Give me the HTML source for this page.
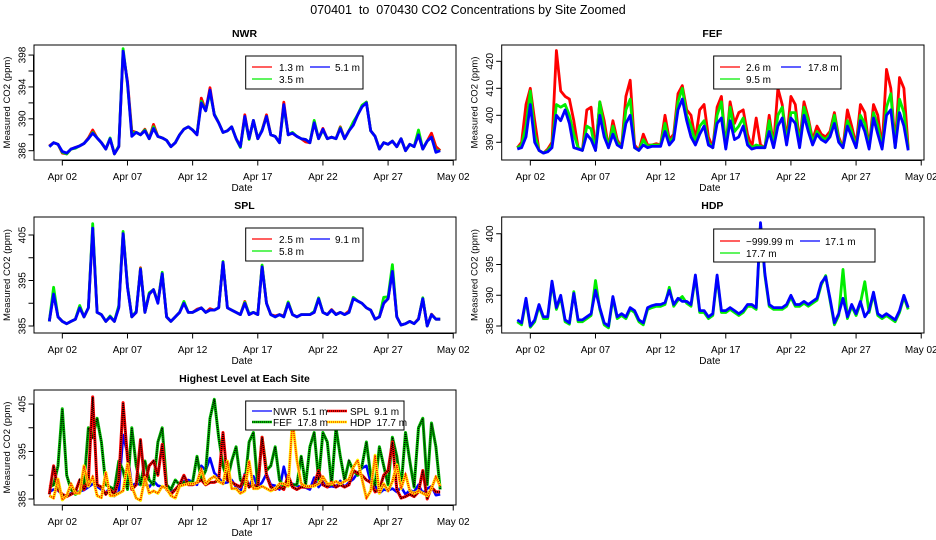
<!DOCTYPE html>
<html><head><meta charset="utf-8"><style>
body{margin:0;background:#fff;}
svg{display:block;font-family:"Liberation Sans",sans-serif;}
text{white-space:pre;}
</style></head><body>
<svg id="chart" width="936" height="540" viewBox="0 0 936 540" xmlns="http://www.w3.org/2000/svg">
<rect x="0" y="0" width="936" height="540" fill="#fff"/>
<text x="468" y="14" text-anchor="middle" font-size="12.5">070401  to  070430 CO2 Concentrations by Site Zoomed</text>
</svg>
<script>
// ---- data (index i = day offset i/3 from Apr 01 00:00) ----
const xTickLabels = ["Apr 02","Apr 07","Apr 12","Apr 17","Apr 22","Apr 27","May 02"];
const xTickDays = [1,6,11,16,21,26,31];

const nwr13 = [386.6,387,386.8,385.7,385.6,386.2,386.4,386.6,386.9,387.6,388.6,387.6,387.0,386.2,387.5,385.6,386.5,398.3,394.7,388.5,388.3,388.0,388.7,387.5,389.3,387.8,387.6,387.3,386.5,387.0,388.0,388.7,389.0,388.6,388.0,392.6,391.0,393.9,390.5,389.5,388.3,388.5,389.0,387.5,386.5,390.5,387.5,389.8,387.5,388.6,390.5,388.0,387.8,387.0,392.1,388.0,388.2,387.8,387.5,387.1,387.0,389.5,387.5,388.8,387.5,387.7,387.5,389.0,387.5,388.5,389.4,390.5,391.6,392.1,388.5,387.8,386.2,387.0,386.8,387.2,386.5,387.5,386.0,386.8,386.5,388.0,386.2,387.2,388.2,386.5,386.0];
const nwr35 = [386.5,387,386.8,385.8,385.6,386.2,386.3,386.6,386.9,387.5,388.3,387.6,387.0,386.2,387.6,385.6,386.6,398.8,394.3,388.2,388.3,388.0,388.6,387.5,389.0,387.8,387.6,387.3,386.5,387.0,388.0,388.7,389.0,388.6,388.1,392.2,391.0,393.3,390.6,389.5,388.3,388.5,389.0,387.5,386.4,390.2,387.4,389.8,387.5,388.6,390.3,388.0,387.8,387.0,391.6,388.0,388.3,387.8,387.5,387.4,387.0,389.8,387.5,388.6,387.5,387.7,387.5,388.9,387.5,388.5,389.6,390.5,391.7,392.1,388.5,387.8,386.2,387.0,386.8,387.2,386.5,387.5,386.0,386.8,386.5,388.6,386.2,387.2,387.7,386.0,386.0];
const nwr51 = [386.5,387,386.8,385.9,385.7,386.2,386.4,386.6,386.9,387.5,388.2,387.6,387.0,386.2,387.5,385.6,386.5,398.5,394.5,387.8,388.3,388.0,388.5,387.5,388.8,387.8,387.6,387.3,386.5,387.0,388.0,388.7,389.0,388.6,388.0,392.0,391.0,393.6,390.5,389.5,388.3,388.5,389.0,387.5,386.5,390.3,387.5,389.8,387.5,388.5,390.3,388.0,387.8,387.0,391.8,388.0,388.2,387.8,387.5,387.4,387.0,389.5,387.5,388.7,387.5,387.7,387.5,388.8,387.5,388.5,389.2,390.5,391.5,392.0,388.5,387.8,386.2,387.0,386.8,387.2,386.5,387.5,386.0,386.8,386.5,388.0,386.2,387.2,387.7,385.8,386.0];

const fef26 = [388,390,404,410,398,387,386,387.5,390,424,409,407,406,398,388,387,402,403,387,405,398,388,398,391,388,407,413,389,387,393,389,389,389.5,389,400,391,393,408,411,402,400,391,402,404,392,388,403,407,388,405,397,401,402,393,388,399,389,388,400,389,410,404,391,407,404,390,405,399,391,396,393,392,394,401,392,388,402,396,389,404,401,388,404,400,388,417,410,389,414,410,388];
const fef95 = [388,389,396,409,393,387,386,387,389,404,403,404,400,393,388,387,396,395,387,405,395,388,396,390,388,402,406,388,387,391,388.5,389,389,389,397,390,392,405,410,400,396,390,396,398,390,388,400,405,388,403,394,396,399,390,388,389,388.5,388,398,388.5,400,403,390,401,401,389,403,398,390,394,392,391,393,400,391,388,398,394,388,400,397,388,401,396,388,403,408,388,406,401,387.5];
const fef178 = [387.5,388,392,404,390,387,386,386.5,388,400,398,402,397,388,387.5,387,393,391,387,400,392,388,393,389,388,397,400,388,387,389,388,388.5,388.5,388.5,394,389,391,402,406,398,392,389,393,396,389,388,397,399,387.5,398,391,392,396,389,387.5,388,388,388,394,388,396,399,389,399,397,388,400,394,389,393,391,390,392,397,390,388,396,392,388,398,394,387.5,399,393,387.5,400,402,388,401,396,387];

const spl25 = [386,392.2,387,386,385.5,386,386.5,389.3,387,389,406.5,388,387.5,386,387,386,389.2,405.5,393.7,387,388,397.8,388,392,393,390.3,396.5,387,386,387,388,390.2,388,388,388.7,389,388,388.8,388.5,389,399,389,388.5,388,387.5,390.4,387.5,388,387.5,398.3,390,387.5,387.2,387.5,387.2,390.2,387.5,387,387.5,387.5,387.5,388,391,388,387.5,388.6,387.6,388,387.5,388.3,391.2,390.5,390,389,388.5,386.5,387,390,391,397.5,387,385.2,385.5,386,385.5,386.6,391,385,387.6,386.5,386.5];
const spl58 = [386,393.5,387,386,385.5,386,386.5,389.5,387,389,407.5,388,387.5,386,387.2,386,389.5,405.8,393.8,387,388.2,397.6,388,392.3,393,390.2,396.8,387,386,387,388,390.4,388,388,388.5,389,388,388.5,388.5,389,399.2,389,388.5,388,387.5,390.2,387.7,388,387.5,398.4,390,387.5,387,387.5,387,390.3,387.5,387,387.5,387.5,387.5,388.2,391.2,388,387.5,388.5,387.5,388,387.5,388,391.3,390.5,390,389,388.5,386.5,387,391.3,391.4,398.5,387,385.2,385.5,386,385.5,386.5,391.2,385,387.5,386.5,386.5];
const spl91 = [386,392,387,386,385.5,386,386.5,389,387,389,406.5,388,387.5,386,387,386,389,405.3,393.5,387,388,397.5,388,392,393,390,396.5,387,386,387,388,390,388,388,388.5,389,388,388.5,388.5,389,399,389,388.5,388,387.5,390,387.5,388,387.5,398,390,387.5,387,387.5,387,390,387.5,387,387.5,387.5,387.5,388,391,388,387.5,388.5,387.5,388,387.5,388,391,390.5,390,389,388.5,386.5,387,390,391,397,387,385.2,385.5,386,385.5,386.5,391,385,387.5,386.5,386.5];

const hdp171 = [386,385.5,389.5,385,386,388.5,386.5,386.5,392.3,388,390,386,385.5,390.3,386,386,386.5,387,390.8,388,385.5,385,389.8,386.5,387,386.5,388,387.5,386,385.5,388,388.3,388.5,388.5,388.8,390.8,388.5,389.5,389,389,388.5,393.3,387.5,387.5,386.5,387,393.3,387.5,387.5,388,387.5,387,387.5,388.5,388.5,388,401.8,393.5,388.5,388,388,388,388.5,390,388.5,388.5,389,388.5,389,389.5,392,393,389.5,385.5,387,389.5,386.5,388.5,387,389,386.5,387.5,390.5,387,386.5,387,386.5,386,387.5,390,388];
const hdp177 = [385.7,385.2,389.2,384.8,385.7,388.2,386.2,386.2,392,387.7,389.7,385.7,385.3,390.6,385.7,385.7,386.2,386.7,392.4,387.7,385.2,384.7,389.5,386.2,386.7,386.2,387.7,387.2,385.7,385.2,387.7,388,388.2,388.2,388.5,391.3,388.2,389.2,389.8,388.7,388.2,393,387.2,387.2,386.2,386.7,393,387.2,387.2,387.7,387.2,386.7,387.2,388.2,388.2,387.7,401.5,393.2,388.2,387.7,387.7,387.7,388.2,389.7,388.2,388.2,388.7,388.2,388.7,389.2,391.7,393.2,389.2,385.2,386.7,394.2,386.2,388.2,386.7,388.7,392.2,387.2,390.2,386.7,386.2,386.7,386.2,385.7,387.2,389.7,387.7];

const svg = document.getElementById('chart');
const NS = 'http://www.w3.org/2000/svg';
function mk(tag, attrs, parent){ const e=document.createElementNS(NS,tag); for(const k in attrs) e.setAttribute(k,attrs[k]); (parent||svg).appendChild(e); return e; }

function panel(cfg){
  const g = mk('g',{});
  
  
  const xs = d => cfg.xd0 + d*13.03;
  const ys = v => cfg.yref - (v - cfg.vref)*cfg.ppv;
  const cid = 'clip-' + cfg.name;
  const cp = mk('clipPath',{id:cid}, g);
  mk('rect',{x:cfg.x0,y:cfg.y0,width:cfg.x1-cfg.x0,height:cfg.y1-cfg.y0}, cp);
  const sg = mk('g',{'clip-path':'url(#'+cid+')'}, g);
  cfg.series.forEach(s=>{
    const pts = s.data.map((v,i)=> xs(i/3).toFixed(1)+','+ys(v).toFixed(1)).join(' ');
    const pl = mk('polyline',{points:pts,fill:'none',stroke:s.color,'stroke-width':s.w||2.8,'stroke-linejoin':'round'}, sg);
    
    
    if(s.dot){
      const p2 = mk('polyline',{points:pts,fill:'none',stroke:s.dot,'stroke-width':1.6,'stroke-dasharray':'1,1'}, sg);
      
      
    }
  });
  const box = mk('rect',{x:cfg.x0,y:cfg.y0,width:cfg.x1-cfg.x0,height:cfg.y1-cfg.y0,fill:'none',stroke:'#000','stroke-width':1}, g);
  
  
  const xa = mk('g',{}, g);
  
  
  const ax = cfg.y1 + 0.5;
  mk('line',{x1:xs(xTickDays[0]),x2:xs(xTickDays[xTickDays.length-1]),y1:ax,y2:ax,stroke:'#000'}, xa);
  xTickDays.forEach((d,i)=>{
    mk('line',{x1:xs(d),x2:xs(d),y1:ax,y2:ax+5,stroke:'#000'}, xa);
    const t = mk('text',{x:xs(d),y:cfg.y1+20,'text-anchor':'middle','font-size':10}, xa);
    t.textContent = xTickLabels[i];
    
    
  });
  const xl = mk('text',{x:(cfg.x0+cfg.x1)/2 - 3,y:cfg.y1+31,'text-anchor':'middle','font-size':10}, g);
  xl.textContent = 'Date';
  
  
  const ya = mk('g',{}, g);
  
  
  const lx = cfg.x0 - 0.5;
  mk('line',{x1:lx,x2:lx,y1:ys(cfg.ticks[0]),y2:ys(cfg.ticks[cfg.ticks.length-1]),stroke:'#000'}, ya);
  cfg.ticks.forEach(v=>{
    mk('line',{x1:lx-5,x2:lx,y1:ys(v),y2:ys(v),stroke:'#000'}, ya);
    if(cfg.labels.indexOf(v)>=0){
      const t = mk('text',{x:0,y:0,'text-anchor':'middle','font-size':10,transform:'translate('+(lx-8)+','+ys(v)+') rotate(-90)'}, ya);
      t.textContent = String(v);
      
      
    }
  });
  const yl = mk('text',{x:0,y:0,'text-anchor':'middle','font-size':9.5,transform:'translate('+(cfg.x0-24)+','+((cfg.y0+cfg.y1)/2)+') rotate(-90)'}, g);
  yl.textContent = 'Measured CO2 (ppm)';
  
  
  const tt = mk('text',{x:(cfg.x0+cfg.x1)/2-0.5,y:cfg.y0-8,'text-anchor':'middle','font-size':10.5,'font-weight':'bold'}, g);
  tt.textContent = cfg.title;
  
  
  const L = cfg.legend;
  const lg = mk('g',{}, g);
  
  
  mk('rect',{x:L.x,y:L.y,width:L.w,height:L.h,fill:'#fff',stroke:'#000','stroke-width':1}, lg);
  L.items.forEach(it=>{
    const e = mk('g',{}, lg);
    
    
    mk('line',{x1:it.lx,x2:it.lx+20,y1:it.y,y2:it.y,stroke:it.color,'stroke-width':it.dot?2.5:1.3}, e);
    if(it.dot) mk('line',{x1:it.lx,x2:it.lx+20,y1:it.y,y2:it.y,stroke:it.dot,'stroke-width':1,'stroke-dasharray':'1,1'}, e);
    const t = mk('text',{x:it.tx,y:it.y+4,'font-size':10}, e);
    t.textContent = it.text;
  });
}

const lx1 = 34, rx1 = 456, lx2 = 501.7, rx2 = 924;
panel({name:'nwr',title:'NWR',x0:lx1,x1:rx1,y0:45,y1:160,xd0:49.3,yref:150.7,vref:386,ppv:7.97,
  ticks:[386,388,390,392,394,396,398],labels:[386,390,394,398],
  series:[{key:'1-3m',data:nwr13,color:'#ff0000'},{key:'3-5m',data:nwr35,color:'#00ee00'},{key:'5-1m',data:nwr51,color:'#0000ff'}],
  legend:{x:245.7,y:56,w:117.3,h:33,items:[
    {lx:252,tx:279,y:67,color:'#ff0000',text:'1.3 m'},{lx:310,tx:335,y:67,color:'#0000ff',text:'5.1 m'},{lx:252,tx:279,y:79,color:'#00ee00',text:'3.5 m'}]}});
panel({name:'fef',title:'FEF',x0:lx2,x1:rx2,y0:45,y1:160,xd0:517.3,yref:142.3,vref:390,ppv:2.7,
  ticks:[390,400,410,420],labels:[390,400,410,420],
  series:[{key:'2-6m',data:fef26,color:'#ff0000'},{key:'9-5m',data:fef95,color:'#00ee00'},{key:'17-8m',data:fef178,color:'#0000ff'}],
  legend:{x:713.7,y:56,w:127.3,h:33,items:[
    {lx:720,tx:746,y:67,color:'#ff0000',text:'2.6 m'},{lx:781,tx:808,y:67,color:'#0000ff',text:'17.8 m'},{lx:720,tx:746,y:79,color:'#00ee00',text:'9.5 m'}]}});
panel({name:'spl',title:'SPL',x0:lx1,x1:rx1,y0:217,y1:333,xd0:49.3,yref:326,vref:385,ppv:4.55,
  ticks:[385,390,395,400,405],labels:[385,395,405],
  series:[{key:'2-5m',data:spl25,color:'#ff0000'},{key:'5-8m',data:spl58,color:'#00ee00'},{key:'9-1m',data:spl91,color:'#0000ff'}],
  legend:{x:245.7,y:228,w:117.3,h:33,items:[
    {lx:252,tx:279,y:239,color:'#ff0000',text:'2.5 m'},{lx:310,tx:335,y:239,color:'#0000ff',text:'9.1 m'},{lx:252,tx:279,y:251,color:'#00ee00',text:'5.8 m'}]}});
panel({name:'hdp',title:'HDP',x0:lx2,x1:rx2,y0:217,y1:333,xd0:517.3,yref:326,vref:385,ppv:6.15,
  ticks:[385,390,395,400],labels:[385,390,395,400],
  series:[{key:'17-7m',data:hdp177,color:'#00ee00'},{key:'17-1m',data:hdp171,color:'#0000ff'}],
  legend:{x:713.7,y:229,w:161.3,h:33,items:[
    {lx:720,tx:746,y:241,color:'#ff0000',text:'\u2212999.99 m'},{lx:800,tx:825,y:241,color:'#0000ff',text:'17.1 m'},{lx:720,tx:746,y:253,color:'#00ee00',text:'17.7 m'}]}});
panel({name:'highest',title:'Highest Level at Each Site',x0:lx1,x1:rx1,y0:390,y1:505,xd0:49.3,yref:499,vref:385,ppv:4.75,
  ticks:[385,390,395,400,405],labels:[385,395,405],
  series:[{key:'nwr',data:nwr51,color:'#0000ff',w:2.6},{key:'fef',data:fef178,color:'#00bb00',dot:'#000',w:3},
          {key:'spl',data:spl91,color:'#ff0000',dot:'#000',w:3},{key:'hdp',data:hdp177,color:'#ffee00',dot:'#ff0000',w:3}],
  legend:{x:245.7,y:401,w:158.3,h:29,items:[
    {lx:252,tx:273,y:411,color:'#0000ff',text:'NWR  5.1 m'},{lx:327,tx:350,y:411,color:'#ff0000',dot:'#000',text:'SPL  9.1 m'},
    {lx:252,tx:273,y:422,color:'#00bb00',dot:'#000',text:'FEF  17.8 m'},{lx:327,tx:350,y:422,color:'#ffee00',dot:'#ff0000',text:'HDP  17.7 m'}]}});
</script>
</body></html>
